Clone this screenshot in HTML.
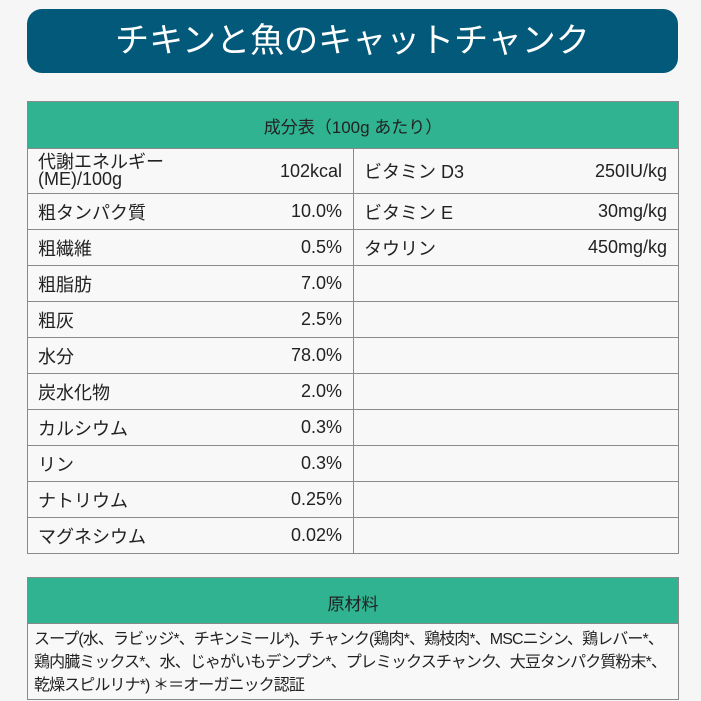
<!DOCTYPE html>
<html><head><meta charset="utf-8"><style>
body{margin:0;width:701px;height:701px;background:#f6f6f6;font-family:"Liberation Sans","Noto Sans CJK JP",sans-serif;color:#222;position:relative;overflow:hidden}
.title{position:absolute;left:27px;top:9px;width:651px;height:64px;background:#02597a;border-radius:15px;color:#fff;font-size:34px;text-align:center;line-height:64px}
table{position:absolute;left:27px;top:101px;width:651px;border-collapse:collapse;font-size:18px;table-layout:fixed}
td{border:1px solid #8a8a8a;padding:0 10px;height:35px;background:#f8f8f8;white-space:nowrap}
td.r{padding-right:11px}
th{background:#2fb390;border:1px solid #8a8a8a;height:44px;font-weight:normal;font-size:17px;color:#222}
.r{text-align:right;border-left:none}
.l{border-right:none}
.ing{position:absolute;left:27px;top:577px;width:650px;border:1px solid #8a8a8a}
.ih{background:#2fb390;height:45px;line-height:54px;text-align:center;font-size:17px;border-bottom:1px solid #8a8a8a}
.it{background:#f8f8f8;padding:4px 6px 2px;font-size:16px;line-height:23px;letter-spacing:-0.9px;white-space:nowrap}
</style></head><body>
<div class="title">チキンと魚のキャットチャンク</div>
<table>
<colgroup><col style="width:180px"><col style="width:146px"><col style="width:150px"><col style="width:175px"></colgroup>
<tr><th colspan="4">成分表（100g あたり）</th></tr>
<tr><td class="l" style="height:44px;line-height:17px">代謝エネルギー<br>(ME)/100g</td><td class="r">102kcal</td><td class="l">ビタミン D3</td><td class="r">250IU/kg</td></tr>
<tr><td class="l">粗タンパク質</td><td class="r">10.0%</td><td class="l">ビタミン E</td><td class="r">30mg/kg</td></tr>
<tr><td class="l">粗繊維</td><td class="r">0.5%</td><td class="l">タウリン</td><td class="r">450mg/kg</td></tr>
<tr><td class="l">粗脂肪</td><td class="r">7.0%</td><td colspan="2"></td></tr>
<tr><td class="l">粗灰</td><td class="r">2.5%</td><td colspan="2"></td></tr>
<tr><td class="l">水分</td><td class="r">78.0%</td><td colspan="2"></td></tr>
<tr><td class="l">炭水化物</td><td class="r">2.0%</td><td colspan="2"></td></tr>
<tr><td class="l">カルシウム</td><td class="r">0.3%</td><td colspan="2"></td></tr>
<tr><td class="l">リン</td><td class="r">0.3%</td><td colspan="2"></td></tr>
<tr><td class="l">ナトリウム</td><td class="r">0.25%</td><td colspan="2"></td></tr>
<tr><td class="l">マグネシウム</td><td class="r">0.02%</td><td colspan="2"></td></tr>
</table>
<div class="ing"><div class="ih">原材料</div><div class="it">スープ(水、ラビッジ*、チキンミール*)、チャンク(鶏肉*、鶏枝肉*、MSCニシン、鶏レバー*、<br>鶏内臓ミックス*、水、じゃがいもデンプン*、プレミックスチャンク、大豆タンパク質粉末*、<br>乾燥スピルリナ*) ＊＝オーガニック認証</div></div>
</body></html>
